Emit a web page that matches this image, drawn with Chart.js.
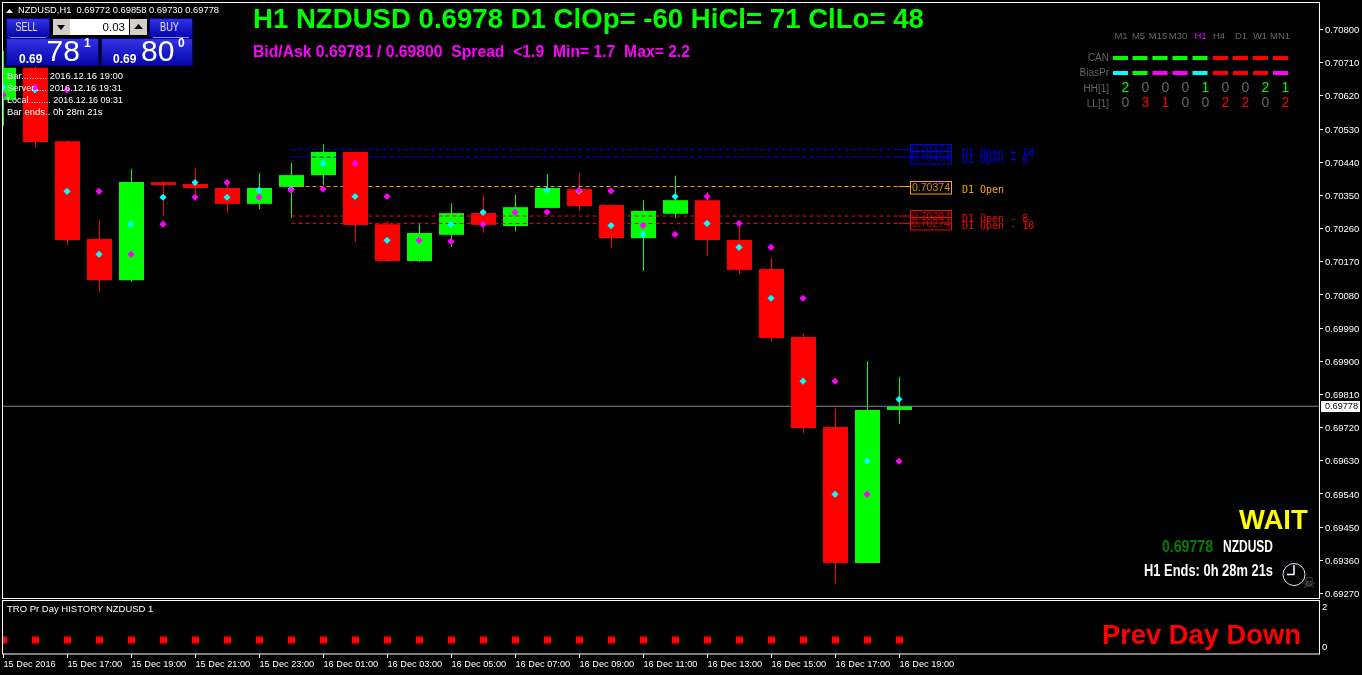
<!DOCTYPE html>
<html><head><meta charset="utf-8">
<script src="https://cdn.jsdelivr.net/npm/chart.js@4/dist/chart.umd.min.js"></script>
<style>
html,body{margin:0;padding:0;background:#000;width:1362px;height:675px;overflow:hidden}
canvas{position:absolute;left:0;display:block;background:#000}
</style></head><body>
<canvas id="main" width="1362" height="600" style="top:0"></canvas>
<canvas id="sub" width="1362" height="75" style="top:600px"></canvas>
<script>
// ---------- data ----------
const barIndex = [0,1,2,3,4,5,6,7,8,9,10,11,12,13,14,15,16,17,18,19,20,21,22,23,24,25,26,27,28];
const opens  = [.70609,.70696,.70497,.70232,.70120,.70386,.70381,.70370,.70327,.70373,.70405,.70468,.70272,.70172,.70243,.70302,.70267,.70316,.70367,.70324,.70234,.70300,.70337,.70229,.70150,.69966,.69722,.69353,.69768];
const closes = [.70696,.70495,.70229,.70120,.70386,.70378,.70370,.70327,.70370,.70405,.70468,.70270,.70172,.70248,.70302,.70270,.70318,.70370,.70321,.70234,.70308,.70337,.70229,.70148,.69963,.69719,.69353,.69768,.69778];
const highs  = [.70742,.70717,.70500,.70283,.70422,.70389,.70424,.70392,.70411,.70438,.70489,.70468,.70280,.70272,.70329,.70351,.70351,.70408,.70411,.70324,.70337,.70403,.70359,.70275,.70180,.69974,.69773,.69901,.69858];
const lows   = [.70538,.70479,.70215,.70088,.70115,.70294,.70337,.70302,.70313,.70289,.70378,.70224,.70169,.70169,.70210,.70248,.70253,.70316,.70308,.70207,.70145,.70289,.70186,.70137,.69955,.69705,.69296,.69353,.69730];
const cyanDots    = [.70643,.70636,.70361,.70190,.70272,.70345,.70385,.70345,.70364,.70367,.70437,.70347,.70228,.70228,.70271,.70304,.70305,.70364,.70362,.70268,.70244,.70347,.70274,.70209,.70071,.69846,.69539,.69629,.69797];
const magentaDots = [.70622,.70643,.70636,.70361,.70190,.70272,.70345,.70385,.70345,.70364,.70367,.70437,.70347,.70228,.70225,.70271,.70304,.70305,.70364,.70362,.70268,.70244,.70347,.70274,.70209,.70071,.69846,.69539,.69629];
const priceTicks = [.708,.7071,.7062,.7053,.7044,.7035,.7026,.7017,.7008,.6999,.699,.6981,.6972,.6963,.6954,.6945,.6936,.6927];
const currentPrice = 0.69778;
const levelPrices = [.70474,.70454,.70374,.70294,.70274];
const levelNames  = ["D1 Open + 10","D1 Open + 8","D1 Open","D1 Open - 8","D1 Open - 10"];
const levelColors = ["#0000ff","#0000ff","#ffa500","#ff0000","#ff0000"];
const histValues = [.35,.35,.35,.35,.35,.35,.35,.35,.35,.35,.35,.35,.35,.35,.35,.35,.35,.35,.35,.35,.35,.35,.35,.35,.35,.35,.35,.35,.35];
const timeTickIndex = [0,2,4,6,8,10,12,14,16,18,20,22,24,26,28];
const timeLabels = ["15 Dec 2016","15 Dec 17:00","15 Dec 19:00","15 Dec 21:00","15 Dec 23:00","16 Dec 01:00","16 Dec 03:00","16 Dec 05:00","16 Dec 07:00","16 Dec 09:00","16 Dec 11:00","16 Dec 13:00","16 Dec 15:00","16 Dec 17:00","16 Dec 19:00"];
const subTicks = [0,2];
const tfNames = ["M1","M5","M15","M30","H1","H4","D1","W1","MN1"];
const canColors  = ["g","g","g","g","g","r","r","r","r"];
const biasColors = ["c","g","m","m","c","r","r","r","m"];
const hhValues = [2,0,0,0,1,0,0,2,1];
const llValues = [0,3,1,0,0,2,2,0,2];

// ---------- layout ----------
const SANS='"Liberation Sans"', MONO='"DejaVu Sans Mono"';
const xMin=-1.5/32, xMax=1315.5/32;
const yTop=0.708+27.5/36864, yBot=0.708-568.5/36864;
const isUp=i=>closes[i]>=opens[i];
const pick=f=>barIndex.filter(f);
const rng=i=>({x:i,y:[opens[i],closes[i]]});
const LIME='#00ff00', RED='#ff0000';
const palette={g:LIME,r:RED,c:'#00ffff',m:'#ff00ff'};

const overlayTexts=[
 // text, x, y, font, color, align, maxWidth
 ["H1 NZDUSD 0.6978 D1 ClOp= -60 HiCl= 71 ClLo= 48",253,20,`bold 27.6px ${SANS}`,LIME,"left",671],
 ["Bid/Ask 0.69781 / 0.69800  Spread  <1.9  Min= 1.7  Max= 2.2",253,52.5,`bold 16px ${SANS}`,"#ff00ff","left",437],
 ["NZDUSD,H1  0.69772 0.69858 0.69730 0.69778",18,10.5,`9.4px ${SANS}`,"#fff","left",201],
 ["Bar.......... 2016.12.16 19:00",7,76,`9.5px ${SANS}`,"#fff","left",116],
 ["Server..... 2016.12.16 19:31",7,88,`9.5px ${SANS}`,"#fff","left",115],
 ["Local......... 2016.12.16 09:31",7,100,`9.5px ${SANS}`,"#fff","left",116],
 ["Bar ends.. 0h 28m 21s",7,112,`9.5px ${SANS}`,"#fff","left"],
 ["WAIT",1239,521.5,`bold 27.5px ${SANS}`,"#ffff00","left",70],
 ["0.69778",1162,548,`bold 16px ${SANS}`,"#008000","left",51],
 ["NZDUSD",1223,548,`bold 16px ${SANS}`,"#fff","left",50],
 ["H1 Ends: 0h 28m 21s",1144,571.5,`bold 16px ${SANS}`,"#fff","left",129],
 ["CAN",1109,58.5,`10px ${SANS}`,"#666","right"],
 ["BiasPr",1109,73.5,`10px ${SANS}`,"#666","right"],
 ["HH[1]",1109,89,`10px ${SANS}`,"#666","right"],
 ["LL[1]",1109,104,`10px ${SANS}`,"#666","right"],
 ["\u2620",1309,584,`15px "DejaVu Sans"`,"#666","center"],
];
const tfX=[1121,1138.5,1158,1178,1200.5,1219,1241,1260,1280];
const canX=[1113,1132.5,1152.5,1172.5,1192.5,1213,1233,1253,1273];
const digitX=[1125.5,1145.5,1165.5,1185.5,1205.5,1225.5,1245.5,1265.5,1285.5];

function txt(c,s,x,y,font,color,align,w){
  c.font=font;c.fillStyle=color;c.textAlign=align||"left";c.textBaseline="middle";
  if(w) c.fillText(s,x,y,w); else c.fillText(s,x,y);
}
function panelBox(c,x,y,w,h){
  const g=c.createLinearGradient(0,y,0,y+h);
  g.addColorStop(0,'#3535e6');g.addColorStop(1,'#0303a8');
  c.fillStyle=g;c.fillRect(x,y,w,h);
  c.strokeStyle='#000088';c.lineWidth=1;c.strokeRect(x+.5,y+.5,w-1,h-1);
}
function tri(c,x1,x2,xm,yb,ya,col){c.fillStyle=col;c.beginPath();c.moveTo(x1,yb);c.lineTo(x2,yb);c.lineTo(xm,ya);c.closePath();c.fill();}
function noPad(s){s.paddingTop=s.paddingBottom=s.paddingLeft=s.paddingRight=0;if(s._margins){s._margins.top=s._margins.bottom=s._margins.left=s._margins.right=0;}}

const overlay={id:'overlay',afterDraw(chart){
  const c=chart.ctx,y=chart.scales.y;c.save();
  // current price tag
  c.fillStyle='#fff';c.fillRect(1321,401,39,11);
  txt(c,currentPrice.toFixed(5),1325,406.5,`9.5px ${SANS}`,'#000','left',33);
  // level boxes
  levelPrices.forEach((p,i)=>{
    const py=Math.round(y.getPixelForValue(p))+.5;
    c.strokeStyle=levelColors[i];c.lineWidth=1;
    c.strokeRect(910.5,py-6,41,12.5);
    c.globalAlpha=.85;txt(c,p.toFixed(5),912,py,`11px ${SANS}`,levelColors[i],'left',38);c.globalAlpha=1;
    const ny=[153.7,160,190,219.7,226.3][i];
    txt(c,levelNames[i],962,ny,`10px ${MONO}`,levelColors[i],'left');
  });
  // trade panel
  panelBox(c,6,18,44,20);panelBox(c,149,18,44,20);
  panelBox(c,6,38,93,28);panelBox(c,101,38,92,28);
  c.fillStyle='#8f8ff5';c.fillRect(10,37,36,1);c.fillRect(153,37,36,1);
  c.fillStyle='#d4d0c8';c.fillRect(53,19,17,16);c.fillRect(130,19,17,16);
  c.fillStyle='#fff';c.fillRect(70,19,59,16);
  tri(c,57,65,61,25,30,'#000');tri(c,134,143,138.5,29,24,'#000');
  tri(c,6,13,9.5,13,9,'#fff');
  txt(c,"SELL",26.5,28,`12px ${SANS}`,'#e4e4ff','center',22);
  txt(c,"BUY",169.5,28,`12px ${SANS}`,'#e4e4ff','center',19);
  txt(c,"0.03",125,27.5,`11.5px ${SANS}`,'#000','right');
  txt(c,"0.69",19,60,`bold 12px ${SANS}`,'#fff','left');
  txt(c,"78",46.5,52.5,`30px ${SANS}`,'#fff','left');
  txt(c,"1",84,43.5,`bold 12px ${SANS}`,'#fff','left');
  txt(c,"0.69",113,60,`bold 12px ${SANS}`,'#fff','left');
  txt(c,"80",141,52.5,`30px ${SANS}`,'#fff','left');
  txt(c,"0",178,43.5,`bold 12px ${SANS}`,'#fff','left');
  // texts
  overlayTexts.forEach(t=>txt(c,t[0],t[1],t[2],t[3],t[4],t[5],t[6]));
  // multi timeframe table
  tfNames.forEach((n,i)=>{
    txt(c,n,tfX[i],36.5,`9.5px ${SANS}`,n==="H1"?'#ff00ff':'#666','center');
    c.fillStyle=palette[canColors[i]];c.fillRect(canX[i],56,15,4);
    c.fillStyle=palette[biasColors[i]];c.fillRect(canX[i],71,15,4);
    txt(c,String(hhValues[i]),digitX[i],88.5,`14px ${SANS}`,hhValues[i]?LIME:'#666','center');
    txt(c,String(llValues[i]),digitX[i],103.5,`14px ${SANS}`,llValues[i]?RED:'#666','center');
  });
  // clock
  c.strokeStyle='#dfeaff';c.lineWidth=1;c.beginPath();c.arc(1294,574.5,11,0,Math.PI*2);c.stroke();
  c.strokeStyle='#fff';c.lineWidth=1.5;c.beginPath();c.moveTo(1294,565);c.lineTo(1294,574.5);c.lineTo(1287,574.5);c.stroke();
  // frame
  c.strokeStyle='#fff';c.lineWidth=1;c.strokeRect(2.5,2.5,1317,596);
  c.restore();
}};

const seg=(x1,x2,y,color,dash,order)=>({type:'line',data:[{x:x1,y},{x:x2,y}],borderColor:color,borderWidth:1,borderDash:dash,pointRadius:0,order,tension:0});
const levelDatasets=[];
levelPrices.forEach((p,i)=>{
  levelDatasets.push(seg(9,27.97,p,levelColors[i],[4,3],4));
  levelDatasets.push(seg(27.97,28.33,p,levelColors[i],[],4));
});
const dots=(vals,color)=>({type:'line',showLine:false,data:barIndex.map(i=>({x:i-.015,y:vals[i]})),pointStyle:'rectRot',pointRadius:3.6,pointBorderWidth:0,pointBackgroundColor:color,pointHoverRadius:3.6,order:0});
const barBase={type:'bar',grouped:false,inflateAmount:0,borderWidth:0};

new Chart(document.getElementById('main'),{
  type:'bar',
  plugins:[overlay],
  data:{datasets:[
    dots(magentaDots,'#ff00ff'),
    dots(cyanDots,'#00ffff'),
    {...barBase,data:pick(i=>!isUp(i)).map(rng),backgroundColor:RED,barThickness:25,order:2},
    seg(xMin,xMax,currentPrice,'#778899',[],3),
    ...levelDatasets,
    {...barBase,data:pick(isUp).map(rng),backgroundColor:LIME,barThickness:25,order:5},
    {...barBase,data:pick(i=>!isUp(i)).map(i=>({x:i,y:[lows[i],highs[i]]})),backgroundColor:RED,barThickness:1,order:6},
    {...barBase,data:pick(isUp).map(i=>({x:i,y:[lows[i],highs[i]]})),backgroundColor:LIME,barThickness:1,order:6},
  ]},
  options:{
    responsive:false,animation:false,events:[],
    layout:{autoPadding:false,padding:{left:2,top:2,right:0,bottom:2}},
    plugins:{legend:{display:false},tooltip:{enabled:false}},
    scales:{
      x:{type:'linear',display:false,min:xMin,max:xMax,offset:false},
      y:{type:'linear',position:'right',min:yBot,max:yTop,
        afterFit(s){s.width=43;noPad(s);},
        afterBuildTicks(s){s.ticks=priceTicks.map(v=>({value:v}));},
        border:{display:false},
        grid:{drawOnChartArea:false,drawTicks:true,tickLength:4,color:'#fff',lineWidth:1},
        ticks:{color:'#fff',padding:2,autoSkip:false,labelOffset:1,font:{family:'Liberation Sans',size:9.5},callback:v=>v.toFixed(5)}
      }
    }
  }
});

const subOverlay={id:'subOverlay',afterDraw(chart){
  const c=chart.ctx;c.save();
  txt(c,"TRO Pr Day HISTORY NZDUSD 1",7,9.5,`9.5px ${SANS}`,'#fff','left',148);
  txt(c,"Prev Day Down",1102,36.5,`bold 27.4px ${SANS}`,RED,'left',199);
  c.strokeStyle='#fff';c.lineWidth=1;c.strokeRect(2.5,.5,1317,53.5);
  c.restore();
}};
new Chart(document.getElementById('sub'),{
  type:'line',
  plugins:[subOverlay],
  data:{datasets:[{data:barIndex.map(i=>({x:i,y:histValues[i]})),showLine:false,pointStyle:'rect',pointRadius:4.95,pointBorderWidth:0,pointBackgroundColor:RED}]},
  options:{
    responsive:false,animation:false,events:[],
    layout:{autoPadding:false,padding:{left:2,top:0,right:0,bottom:0}},
    plugins:{legend:{display:false},tooltip:{enabled:false}},
    scales:{
      x:{type:'linear',position:'bottom',min:xMin,max:xMax,
        afterFit(s){s.height=21;noPad(s);},
        afterBuildTicks(s){s.ticks=timeTickIndex.map(v=>({value:v}));},
        border:{display:false},
        grid:{drawOnChartArea:false,drawTicks:true,tickLength:4,color:'#fff'},
        ticks:{color:'#fff',padding:1,autoSkip:false,maxRotation:0,minRotation:0,align:'start',font:{family:'Liberation Sans',size:9.2},
          callback:v=>timeLabels[timeTickIndex.indexOf(v)]}
      },
      y:{type:'linear',position:'right',min:-.35,max:2.35,
        afterFit(s){s.width=43;noPad(s);},
        afterBuildTicks(s){s.ticks=subTicks.map(v=>({value:v}));},
        border:{display:false},
        grid:{drawOnChartArea:false,drawTicks:true,tickLength:3,tickColor:'transparent'},
        ticks:{color:'#fff',padding:0,autoSkip:false,font:{family:'Liberation Sans',size:9.5},callback:v=>String(v)}
      }
    }
  }
});
</script>
</body></html>
